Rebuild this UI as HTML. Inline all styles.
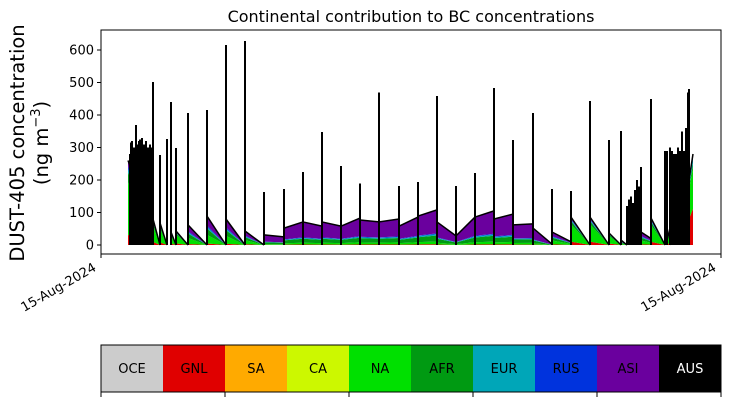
<!DOCTYPE html>
<html><head><meta charset="utf-8"><style>
body{margin:0;background:#fff;width:730px;height:402px;overflow:hidden;font-family:"DejaVu Sans","Liberation Sans",sans-serif}
</style></head><body>
<svg id="c" width="730" height="402" viewBox="0 0 730 402" xmlns="http://www.w3.org/2000/svg" font-family="DejaVu Sans, Liberation Sans, sans-serif">
<text x="411" y="22" font-size="16" text-anchor="middle">Continental contribution to BC concentrations</text>
<g transform="translate(24,143) rotate(-90)">
<text x="0" y="0" font-size="19.5" text-anchor="middle">DUST-405 concentration</text>
<text x="0" y="24" font-size="19.5" text-anchor="middle">(ng m<tspan dy="-8" font-size="13">−3</tspan><tspan dy="8">)</tspan></text>
</g>
<g id="plot"></g>
<g id="yaxis"></g>
<rect x="101" y="30" width="620" height="224" fill="none" stroke="#000" stroke-width="1"/>
<g>
<line x1="101" y1="254" x2="101" y2="258" stroke="#000"/>
<line x1="721" y1="254" x2="721" y2="258" stroke="#000"/>
<text transform="translate(97,270) rotate(-30)" font-size="13" text-anchor="end">15-Aug-2024</text>
<text transform="translate(717,270) rotate(-30)" font-size="13" text-anchor="end">15-Aug-2024</text>
</g>
<g id="cbar"></g>
</svg>
<script>
const NS="http://www.w3.org/2000/svg";
// data (x in time units 0..620 across axis)
const yTicks=[0,100,200,300,400,500,600];
const spikeX=[52,59,66,70,75,87,106,125,144,163,183,202,221,240,259,278,298,317,336,355,374,393,412,432,451,470,489,508,520,550,564,588];
const spikeV=[502,277,326,440,298,406,415,615,628,163,172,225,348,243,190,470,182,194,458,182,221,483,323,406,172,166,443,323,351,449,289,480];
const clusterAX=[29,30,31,32,33,34,35,36,37,38,39,40,41,42,43,44,45,46,47,48,49,50,51];
const clusterAV=[280,315,320,270,300,250,370,310,290,320,325,300,330,280,310,300,320,250,300,290,310,270,300];
const clusterBX=[526,528,530,532,534,536,538,540,566,569,571,573,575,577,579,581,583,585,587];
const clusterBV=[120,140,150,130,170,200,180,240,290,300,290,280,280,300,290,350,290,360,470];
const ivX0=[27,52,59,70,75,87,106,125,144,163,183,202,221,240,259,278,298,317,336,355,374,393,412,432,451,470,489,508,520,540,550,564,570,580];
const ivX1=[52,59,66,75,87,106,125,144,163,183,202,221,240,259,278,298,317,336,355,374,393,412,432,451,470,489,508,520,526,550,564,570,580,592];
const ivV0=[260,80,68,40,43,62,89,80,43,31,52,71,71,58,77,71,58,89,71,28,86,80,62,52,40,86,86,37,15,40,83,80,30,40];
const ivV1=[60,0,0,0,0,0,0,0,0,25,71,58,58,83,71,80,86,108,28,86,105,95,65,3,10,0,0,0,0,20,0,0,40,280];
const ivMix=[0,0,0,0,0,1,1,1,1,2,2,2,2,2,2,2,2,2,2,2,2,2,2,2,1,0,0,0,1,1,0,0,0,3];
// shares: GNL, NA, AFR, EUR, RUS, ASI
const mixShares=[[0.12,0.62,0.12,0.04,0.03,0.07],[0.05,0.3,0.22,0.06,0.05,0.32],[0.02,0.08,0.17,0.04,0.02,0.67],[0.4,0.45,0.05,0.05,0.05,0]];
const compColors=["#e00000","#00e000","#009a12","#00a6b8","#0033dd","#6a009e"];
const cbLabels=["OCE","GNL","SA","CA","NA","AFR","EUR","RUS","ASI","AUS"];
const cbColors=["#cccccc","#e00000","#ffaa00","#ccf800","#00e000","#009a12","#00a6b8","#0033dd","#6a009e","#000000"];
const cbTextColors=["#000","#000","#000","#000","#000","#000","#000","#000","#000","#fff"];

const X=t=>101+t; const Y=v=>245-v*0.325;
const plot=document.getElementById('plot');
function mk(tag,attrs,parent){const e=document.createElementNS(NS,tag);for(const k in attrs)e.setAttribute(k,attrs[k]);parent.appendChild(e);return e;}
for(let i=0;i<ivX0.length;i++){
  const sh=mixShares[ivMix[i]];
  let c0=0,c1=0;
  const g=mk('g',{},plot);
  
  
  for(let k=0;k<sh.length;k++){
    const n0=c0+sh[k]*ivV0[i], n1=c1+sh[k]*ivV1[i];
    const p=mk('polygon',{points:`${X(ivX0[i])},${Y(c0)} ${X(ivX0[i])},${Y(n0)} ${X(ivX1[i])},${Y(n1)} ${X(ivX1[i])},${Y(c1)}`,fill:compColors[k]},g);
    
    
    c0=n0;c1=n1;
  }
  const l=mk('line',{x1:X(ivX0[i]),y1:Y(ivV0[i]),x2:X(ivX1[i]),y2:Y(ivV1[i]),stroke:'#000','stroke-width':1.5},g);
  
  
}
function spikes(xs,vs,w){
  for(let i=0;i<xs.length;i++){
    const l=mk('line',{x1:X(xs[i]),y1:Y(0),x2:X(xs[i]),y2:Y(vs[i]),stroke:'#000','stroke-width':w,'shape-rendering':'crispEdges'},plot);
    
    
  }
}
spikes(clusterAX,clusterAV,2);
spikes(clusterBX,clusterBV,2);
spikes(spikeX,spikeV,2);
const ya=document.getElementById('yaxis');
yTicks.forEach(v=>{
  const t=mk('line',{x1:97,y1:Y(v),x2:101,y2:Y(v),stroke:'#000'},ya);
  
  
  const tx=mk('text',{x:94,y:Y(v)+4.5,'font-size':13,'text-anchor':'end'},ya);
  tx.textContent=v;
  
  
});
const cb=document.getElementById('cbar');
const bw=62;
cbLabels.forEach((lab,i)=>{
  const r=mk('rect',{x:101+i*bw,y:345,width:bw,height:47,fill:cbColors[i]},cb);
  
  
  const t=mk('text',{x:101+i*bw+bw/2,y:373,'font-size':13,'text-anchor':'middle',fill:cbTextColors[i]},cb);
  t.textContent=lab;
  
  
});
const f=mk('rect',{x:101,y:345,width:620,height:47,fill:'none',stroke:'#000','stroke-width':1},cb);


[0,2,4,6,8,10].forEach(i=>{
  const t=mk('line',{x1:101+i*bw,y1:392,x2:101+i*bw,y2:397,stroke:'#000'},cb);
  
  
});
</script>
</body></html>
